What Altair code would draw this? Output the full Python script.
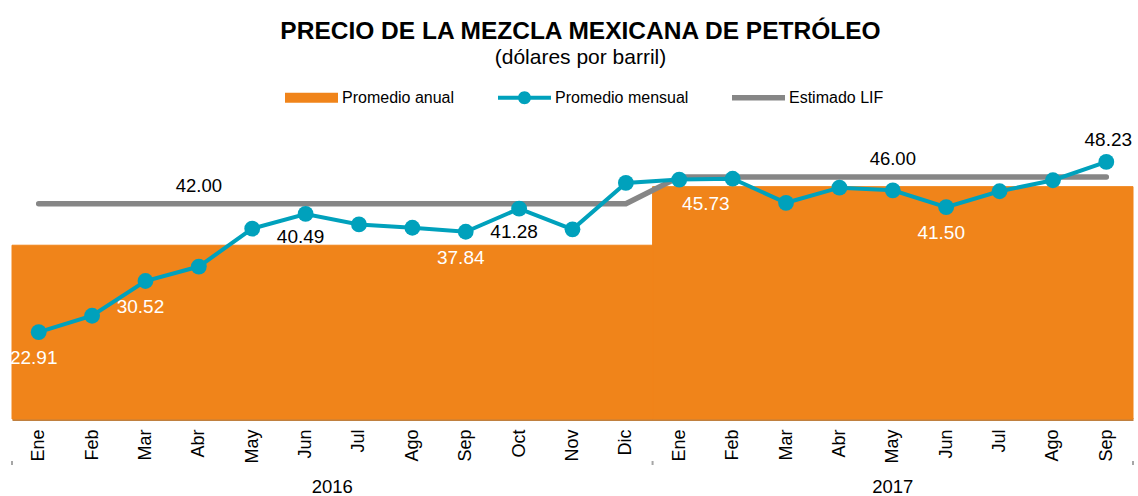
import altair as alt
import pandas as pd

# ---------------- data ----------------
months = ["Ene", "Feb", "Mar", "Abr", "May", "Jun", "Jul", "Ago", "Sep", "Oct", "Nov", "Dic",
          "Ene", "Feb", "Mar", "Abr", "May", "Jun", "Jul", "Ago", "Sep"]
years = [2016] * 12 + [2017] * 9
monthly = [22.91, 25.35, 30.52, 32.67, 38.30, 40.49, 38.93, 38.44, 37.84, 41.28, 38.20, 45.10,
           45.60, 45.73, 42.15, 44.40, 44.00, 41.50, 43.87, 45.50, 48.23]
lif = [42.00, 42.00, 42.00, 42.00, 42.00, 42.00, 42.00, 42.00, 42.00, 42.00, 42.00, 42.00,
       46.00, 46.00, 46.00, 46.00, 46.00, 46.00, 46.00, 46.00, 46.00]
annual_years = [2016, 2017]
annual_avg = [35.84, 44.55]

series = ["Promedio anual", "Promedio mensual", "Estimado LIF"]
colors = ["#F0841A", "#00A1BC", "#868686"]

# labelled points (month index)
lbl_below_white = [0, 2, 8, 17]
lbl_below_black = [5, 9]
lbl_below_white_left = [13]
lbl_above_black = [20]
lif_label_idx = [3, 16]

# ---------------- tables ----------------
df = pd.DataFrame({"idx": list(range(len(months))), "mes": months, "anio": years,
                   "mensual": monthly, "lif": lif})
yr = df.groupby("anio")["idx"].agg(["min", "max"]).reset_index()
yr["x0"] = yr["min"] - 0.5
yr["x1"] = yr["max"] + 0.5
yr["xc"] = (yr["min"] + yr["max"]) / 2
yr["avg"] = [annual_avg[annual_years.index(a)] for a in yr["anio"]]
yr["anio_txt"] = yr["anio"].astype(str)
seps = pd.DataFrame({"b": sorted(set(list(yr["x0"]) + list(yr["x1"])))})

NF = "Liberation Sans, Arial"

label_expr = "[" + ",".join("'%s'" % m for m in months) + "][datum.value]"
xs = alt.Scale(domain=[-0.5, len(months) - 0.5], nice=False, zero=False)
ys = alt.Scale(domain=[10, 50], nice=False, zero=False)
xaxis = alt.Axis(values=list(range(len(months))), labelExpr=label_expr, title=None,
                 labelAngle=270, labelAlign="right", labelBaseline="middle",
                 labelPadding=10, labelFont=NF, labelFontSize=18, labelColor="black",
                 ticks=False, grid=False, domainColor="#C0803F", domainWidth=3,
                 labelOverlap=False)


def X(f):
    return alt.X(f, type="quantitative", scale=xs, axis=xaxis)


def Y(f):
    return alt.Y(f, type="quantitative", scale=ys, axis=None)


area = alt.Chart(yr).mark_rect(color=colors[0], stroke=colors[0], strokeWidth=1).encode(
    x=X("x0"), x2="x1", y=Y("avg"), y2=alt.datum(10))

base = alt.Chart(df)

lif_line = base.mark_line(color=colors[2], strokeWidth=5.5, strokeCap="round").encode(
    x=X("idx"), y=Y("lif"))

mens_line = base.mark_line(color=colors[1], strokeWidth=4).encode(x=X("idx"), y=Y("mensual"))
mens_pts = base.mark_circle(color=colors[1], size=250, opacity=1).encode(
    x=X("idx"), y=Y("mensual"))


def labels(idx_list, color, dy, dx=-5, align="center"):
    return base.transform_filter(
        alt.FieldOneOfPredicate(field="idx", oneOf=idx_list)
    ).mark_text(font=NF, fontSize=19, color=color, dy=dy, dx=dx, align=align,
                baseline="middle").encode(
        x=X("idx"), y=Y("mensual"), text=alt.Text("mensual:Q", format=".2f"))


lab1 = labels(lbl_below_white, "white", 26)
lab2 = labels(lbl_below_black, "black", 23)
lab3 = labels(lbl_below_white_left, "white", 25, dx=-3, align="right")
lab4 = labels(lbl_above_black, "black", -22, dx=2)

lif_lab = base.transform_filter(
    alt.FieldOneOfPredicate(field="idx", oneOf=lif_label_idx)
).mark_text(font=NF, fontSize=18.5, color="black", dy=-18, baseline="middle").encode(
    x=X("idx"), y=Y("lif"), text=alt.Text("lif:Q", format=".2f"))

year_txt = alt.Chart(yr).mark_text(font=NF, fontSize=18.5, color="black", baseline="middle").encode(
    x=X("xc"), y=alt.value(337), text="anio_txt:N")

year_sep = alt.Chart(seps).mark_rule(color="#A6A6A6", strokeWidth=2).encode(
    x=X("b"), y=alt.value(311), y2=alt.value(315))

paths = [
    "M-1,-0.19L1,-0.19L1,0.19L-1,0.19Z",
    "M-1,-0.075L1,-0.075L1,0.075L-1,0.075Z M-0.245,0 A0.245,0.245 0 1,1 0.245,0 A0.245,0.245 0 1,1 -0.245,0 Z",
    "M-1,-0.105L1,-0.105L1,0.105L-1,0.105Z",
]
leg = alt.Legend(orient="none", legendX=273, legendY=-79, direction="horizontal", title=None,
                 symbolSize=2809, symbolStrokeWidth=0, symbolOpacity=1, labelFont=NF,
                 labelFontSize=16, labelOffset=4, columnPadding=43, labelColor="black")
legend_layer = alt.Chart(pd.DataFrame({"serie": series})).transform_filter("false").mark_point(
    filled=True, opacity=1).encode(
    color=alt.Color("serie:N", scale=alt.Scale(domain=series, range=colors), legend=leg),
    shape=alt.Shape("serie:N", scale=alt.Scale(domain=series, range=paths), legend=leg))

chart = alt.layer(
    area, lif_line, mens_line, mens_pts, lab1, lab2, lab3, lab4, lif_lab,
    year_txt, year_sep, legend_layer
).properties(
    width=1121, height=269,
    padding={"left": 12, "top": 150, "right": 5, "bottom": 77},
    autosize="none",
    title=alt.TitleParams(
        text="PRECIO DE LA MEZCLA MEXICANA DE PETRÓLEO",
        subtitle="(dólares por barril)",
        font=NF, fontSize=24.5, fontWeight="bold", color="black",
        subtitleFont=NF, subtitleFontSize=21, subtitleColor="black",
        anchor="middle", offset=2, subtitlePadding=3, dx=8,
    ),
).configure_view(stroke=None)

chart.save("out.html", embed_options={"renderer": "svg", "actions": False})
